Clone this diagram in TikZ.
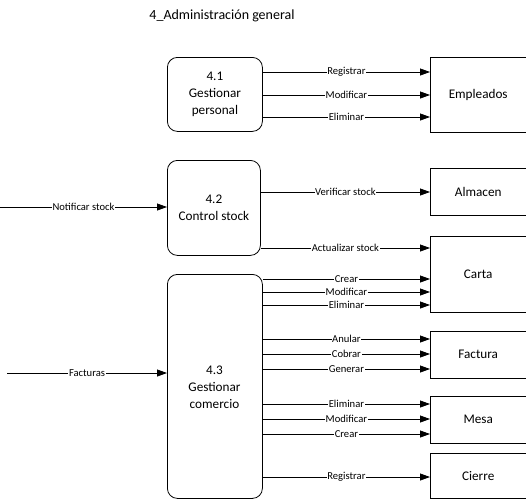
\documentclass[tikz,border=0pt]{standalone}
\usepackage{fontspec}
\setmainfont{Carlito}
\usetikzlibrary{arrows.meta}
\tikzset{
  proc/.style={draw, line width=0.8pt, rounded corners=10pt, align=center, anchor=north west,
    font=\fontsize{13.2}{17}\selectfont, inner sep=0pt},
  store/.style={anchor=north west, minimum width=96pt, font=\fontsize{13.2}{17}\selectfont, inner sep=0pt},
  flow/.style={line width=0.8pt, -{Triangle[length=10pt,width=7pt]}},
  lbl/.style={midway, fill=white, inner sep=0.6pt, font=\fontsize{10.6}{11}\selectfont},
}
\newcommand{\opnstore}[1]{\draw[line width=0.8pt] (#1.north east) -- (#1.north west) -- (#1.south west) -- (#1.south east);}
\begin{document}
\begin{tikzpicture}[x=1pt,y=-1pt]
\useasboundingbox (0,0) rectangle (526,501);
\node[font=\fontsize{14}{16}\selectfont] (title) at (222,16) {4\_Administración general};
% processes
\node[proc, minimum width=95pt, minimum height=74pt] (p41) at (167,57) {4.1\\Gestionar\\personal};
\node[proc, minimum width=93pt, minimum height=95pt] (p42) at (167,160) {4.2\\Control stock};
\node[proc, minimum width=95pt, minimum height=224pt] (p43) at (167,274) {};
\node[font=\fontsize{13.2}{17}\selectfont, align=center] (t43) at (214.5,387) {4.3\\Gestionar\\comercio};
% stores
\node[store, minimum height=75pt] (emp) at (430,57) {Empleados};
\node[store, minimum height=47pt] (alm) at (430,168) {Almacen};
\node[store, minimum height=76pt] (car) at (430,236) {Carta};
\node[store, minimum height=47pt] (fac) at (430,331) {Factura};
\node[store, minimum height=47pt] (mes) at (430,396) {Mesa};
\node[store, minimum height=45pt] (cie) at (430,453) {Cierre};
\opnstore{emp}\opnstore{alm}\opnstore{car}\opnstore{fac}\opnstore{mes}\opnstore{cie}
% external inputs
\coordinate (ns) at (0,207);
\coordinate (fc) at (7,373);
\draw[flow] (ns) -- (p42.west |- ns) node[lbl] {Notificar stock};
\draw[flow] (fc) -- (p43.west |- fc) node[lbl] {Facturas};
% 4.1
\draw[flow] (p41.east |- 0,72) -- (emp.west |- 0,72) node[lbl] {Registrar};
\draw[flow] (p41.east |- 0,95) -- (emp.west |- 0,95) node[lbl] {Modificar};
\draw[flow] (p41.east |- 0,117) -- (emp.west |- 0,117) node[lbl] {Eliminar};
% 4.2
\draw[flow] (p42.east |- 0,192) -- (alm.west |- 0,192) node[lbl] {Verificar stock};
\draw[flow] (p42.east |- 0,248) -- (car.west |- 0,248) node[lbl] {Actualizar stock};
% 4.3
\draw[flow] (p43.east |- 0,279) -- (car.west |- 0,279) node[lbl] {Crear};
\draw[flow] (p43.east |- 0,292) -- (car.west |- 0,292) node[lbl] {Modificar};
\draw[flow] (p43.east |- 0,305) -- (car.west |- 0,305) node[lbl] {Eliminar};
\draw[flow] (p43.east |- 0,339) -- (fac.west |- 0,339) node[lbl] {Anular};
\draw[flow] (p43.east |- 0,354) -- (fac.west |- 0,354) node[lbl] {Cobrar};
\draw[flow] (p43.east |- 0,369) -- (fac.west |- 0,369) node[lbl] {Generar};
\draw[flow] (p43.east |- 0,404) -- (mes.west |- 0,404) node[lbl] {Eliminar};
\draw[flow] (p43.east |- 0,419) -- (mes.west |- 0,419) node[lbl] {Modificar};
\draw[flow] (p43.east |- 0,434) -- (mes.west |- 0,434) node[lbl] {Crear};
\draw[flow] (p43.east |- 0,477) -- (cie.west |- 0,477) node[lbl] {Registrar};
\end{tikzpicture}
\end{document}
